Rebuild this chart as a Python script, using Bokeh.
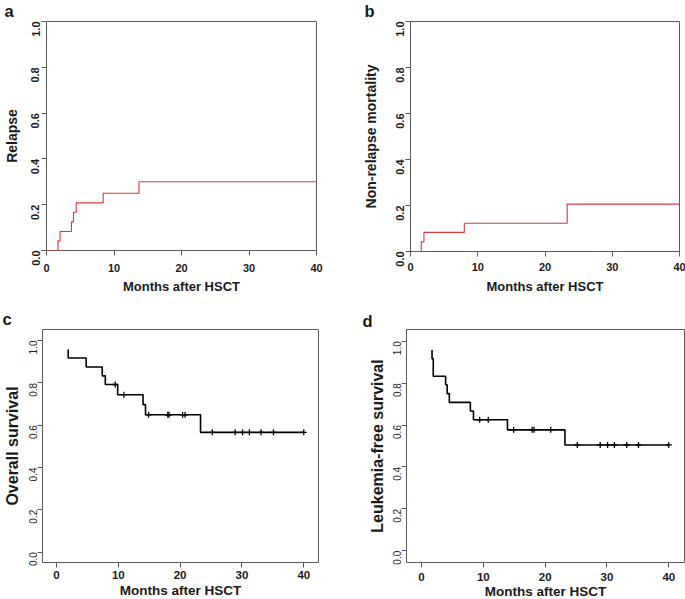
import math
from bokeh.plotting import figure
from bokeh.models import Title, FixedTicker, NumeralTickFormatter, Range1d
from bokeh.layouts import column, row
from bokeh.embed import file_html
from bokeh.resources import INLINE

# ---------------- data ----------------
x_ticks = [0, 10, 20, 30, 40]
y_ticks = [0.0, 0.2, 0.4, 0.6, 0.8, 1.0]

relapse_t = [0, 1.7, 2.0, 3.7, 4.0, 4.4, 8.4, 13.7, 40]
relapse_v = [0, 0.042, 0.083, 0.125, 0.167, 0.208, 0.25, 0.30, 0.30]

nrm_t = [0, 1.6, 2.0, 8.0, 23.3, 40]
nrm_v = [0, 0.042, 0.083, 0.123, 0.206, 0.206]

os_t = [1.9, 1.9, 4.8, 7.4, 7.9, 9.9, 14.0, 14.4, 23.3, 40]
os_v = [0.958, 0.917, 0.875, 0.833, 0.792, 0.744, 0.697, 0.649, 0.566, 0.566]
os_cens = [9.5, 10.9, 14.9, 18.0, 18.2, 20.4, 20.8, 25.2, 28.9, 30.1, 31.2, 33.1, 35.1, 40.0]

lfs_t = [1.7, 1.7, 1.9, 3.9, 4.15, 4.5, 7.9, 8.4, 13.9, 23.2, 40]
lfs_v = [0.958, 0.917, 0.833, 0.792, 0.75, 0.708, 0.667, 0.625, 0.577, 0.505, 0.505]
lfs_cens = [9.4, 10.8, 14.9, 17.9, 18.2, 20.9, 25.2, 28.9, 30.1, 31.2, 33.2, 35.1, 40.0]

FONT = "Liberation Sans"
TXT = "#1a1a1a"
BOX = "#5a5a5a"
RED = "#d8373c"


def level(ts, vs, t):
    v = vs[0]
    for ti, vi in zip(ts, vs):
        if ti <= t:
            v = vi
    return v


def make_fig(xr, yr, bl, fw, br, bt, fh, bb,
             xsize, xstand, ysize, ystand, ybold,
             xlabel, xlsize, xlstand, ylabel, ylsize, ylstand,
             letter, loff, lvalign, lstand):
    p = figure(output_backend="svg", toolbar_location=None,
               frame_width=fw, frame_height=fh,
               x_range=Range1d(*xr), y_range=Range1d(*yr))
    p.min_border = 0
    p.min_border_left = bl
    p.min_border_right = br
    p.min_border_top = bt
    p.min_border_bottom = bb
    p.grid.visible = False
    p.outline_line_color = BOX
    p.outline_line_width = 1
    p.background_fill_color = "white"
    p.border_fill_color = "white"
    for ax in (p.xaxis[0], p.yaxis[0]):
        ax.axis_line_color = None
        ax.major_tick_out = 5
        ax.major_tick_in = 0
        ax.minor_tick_out = 0
        ax.minor_tick_in = 0
        ax.major_tick_line_color = BOX
        ax.major_label_text_font = FONT
        ax.major_label_text_color = TXT
        ax.axis_label_text_font = FONT
        ax.axis_label_text_font_style = "bold"
        ax.axis_label_text_color = TXT
    p.xaxis.ticker = FixedTicker(ticks=x_ticks)
    p.yaxis.ticker = FixedTicker(ticks=y_ticks)
    p.xaxis.formatter = NumeralTickFormatter(format="0")
    p.yaxis.formatter = NumeralTickFormatter(format="0.0")
    p.xaxis.major_label_text_font_size = xsize
    p.xaxis.major_label_text_font_style = "bold"
    p.xaxis.major_label_standoff = xstand
    p.yaxis.major_label_text_font_size = ysize
    p.yaxis.major_label_text_font_style = "bold" if ybold else "normal"
    p.yaxis.major_label_standoff = ystand
    p.yaxis.major_label_orientation = math.pi / 2
    p.xaxis.axis_label = xlabel
    p.xaxis.axis_label_text_font_size = xlsize
    p.xaxis.axis_label_standoff = xlstand
    p.yaxis.axis_label = ylabel
    p.yaxis.axis_label_text_font_size = ylsize
    p.yaxis.axis_label_standoff = ylstand
    p.add_layout(Title(text=letter, align="left", offset=loff,
                       vertical_align=lvalign, standoff=lstand,
                       text_font=FONT, text_font_size="16.5px",
                       text_font_style="bold", text_color=TXT), "above")
    return p


# ---------------- panel a ----------------
pa = make_fig((0, 40), (0, 1), 44, 270, 31, 21, 229, 50,
              "11px", 8, "11px", 6, True,
              "Months after HSCT", "13px", 4, "Relapse", "14px", 5,
              "a", -42, "top", 0)
pa.step(relapse_t, relapse_v, mode="after", line_color=RED, line_width=1.1)

# ---------------- panel b ----------------
pb = make_fig((0, 40), (0, 1), 63, 269, 8, 21, 230, 49,
              "11px", 6, "11px", 6, True,
              "Months after HSCT", "13px", 5, "Non-relapse mortality", "14px", 10,
              "b", -46, "top", 0)
pb.step(nrm_t, nrm_v, mode="after", line_color=RED, line_width=1.1)

# ---------------- panel c ----------------
pc = make_fig((-2.26, 42.38), (-0.049, 1.052), 42, 276, 27, 29, 233, 37,
              "11.5px", 3, "10px", 4, False,
              "Months after HSCT", "13.5px", 1, "Overall survival", "16px", 2,
              "c", -40, "bottom", 2.8)
pc.step(os_t, os_v, mode="after", line_color="black", line_width=1.6)
pc.scatter(os_cens, [level(os_t, os_v, t) for t in os_cens], marker="cross",
           size=6, line_color="black", line_width=1.3)

# ---------------- panel d ----------------
pd = make_fig((-2.43, 42.54), (-0.056, 1.056), 61, 278, 1, 28, 233, 38,
              "11.5px", 5, "10px", 4, False,
              "Months after HSCT", "13.5px", 0, "Leukemia-free survival", "16px", 1,
              "d", -44, "bottom", -1.2)
pd.step(lfs_t, lfs_v, mode="after", line_color="black", line_width=1.6)
pd.scatter(lfs_cens, [level(lfs_t, lfs_v, t) for t in lfs_cens], marker="cross",
           size=6, line_color="black", line_width=1.3)

layout = column(row(pa, pb), row(pc, pd))
open("out.html", "w").write(file_html(layout, INLINE))
